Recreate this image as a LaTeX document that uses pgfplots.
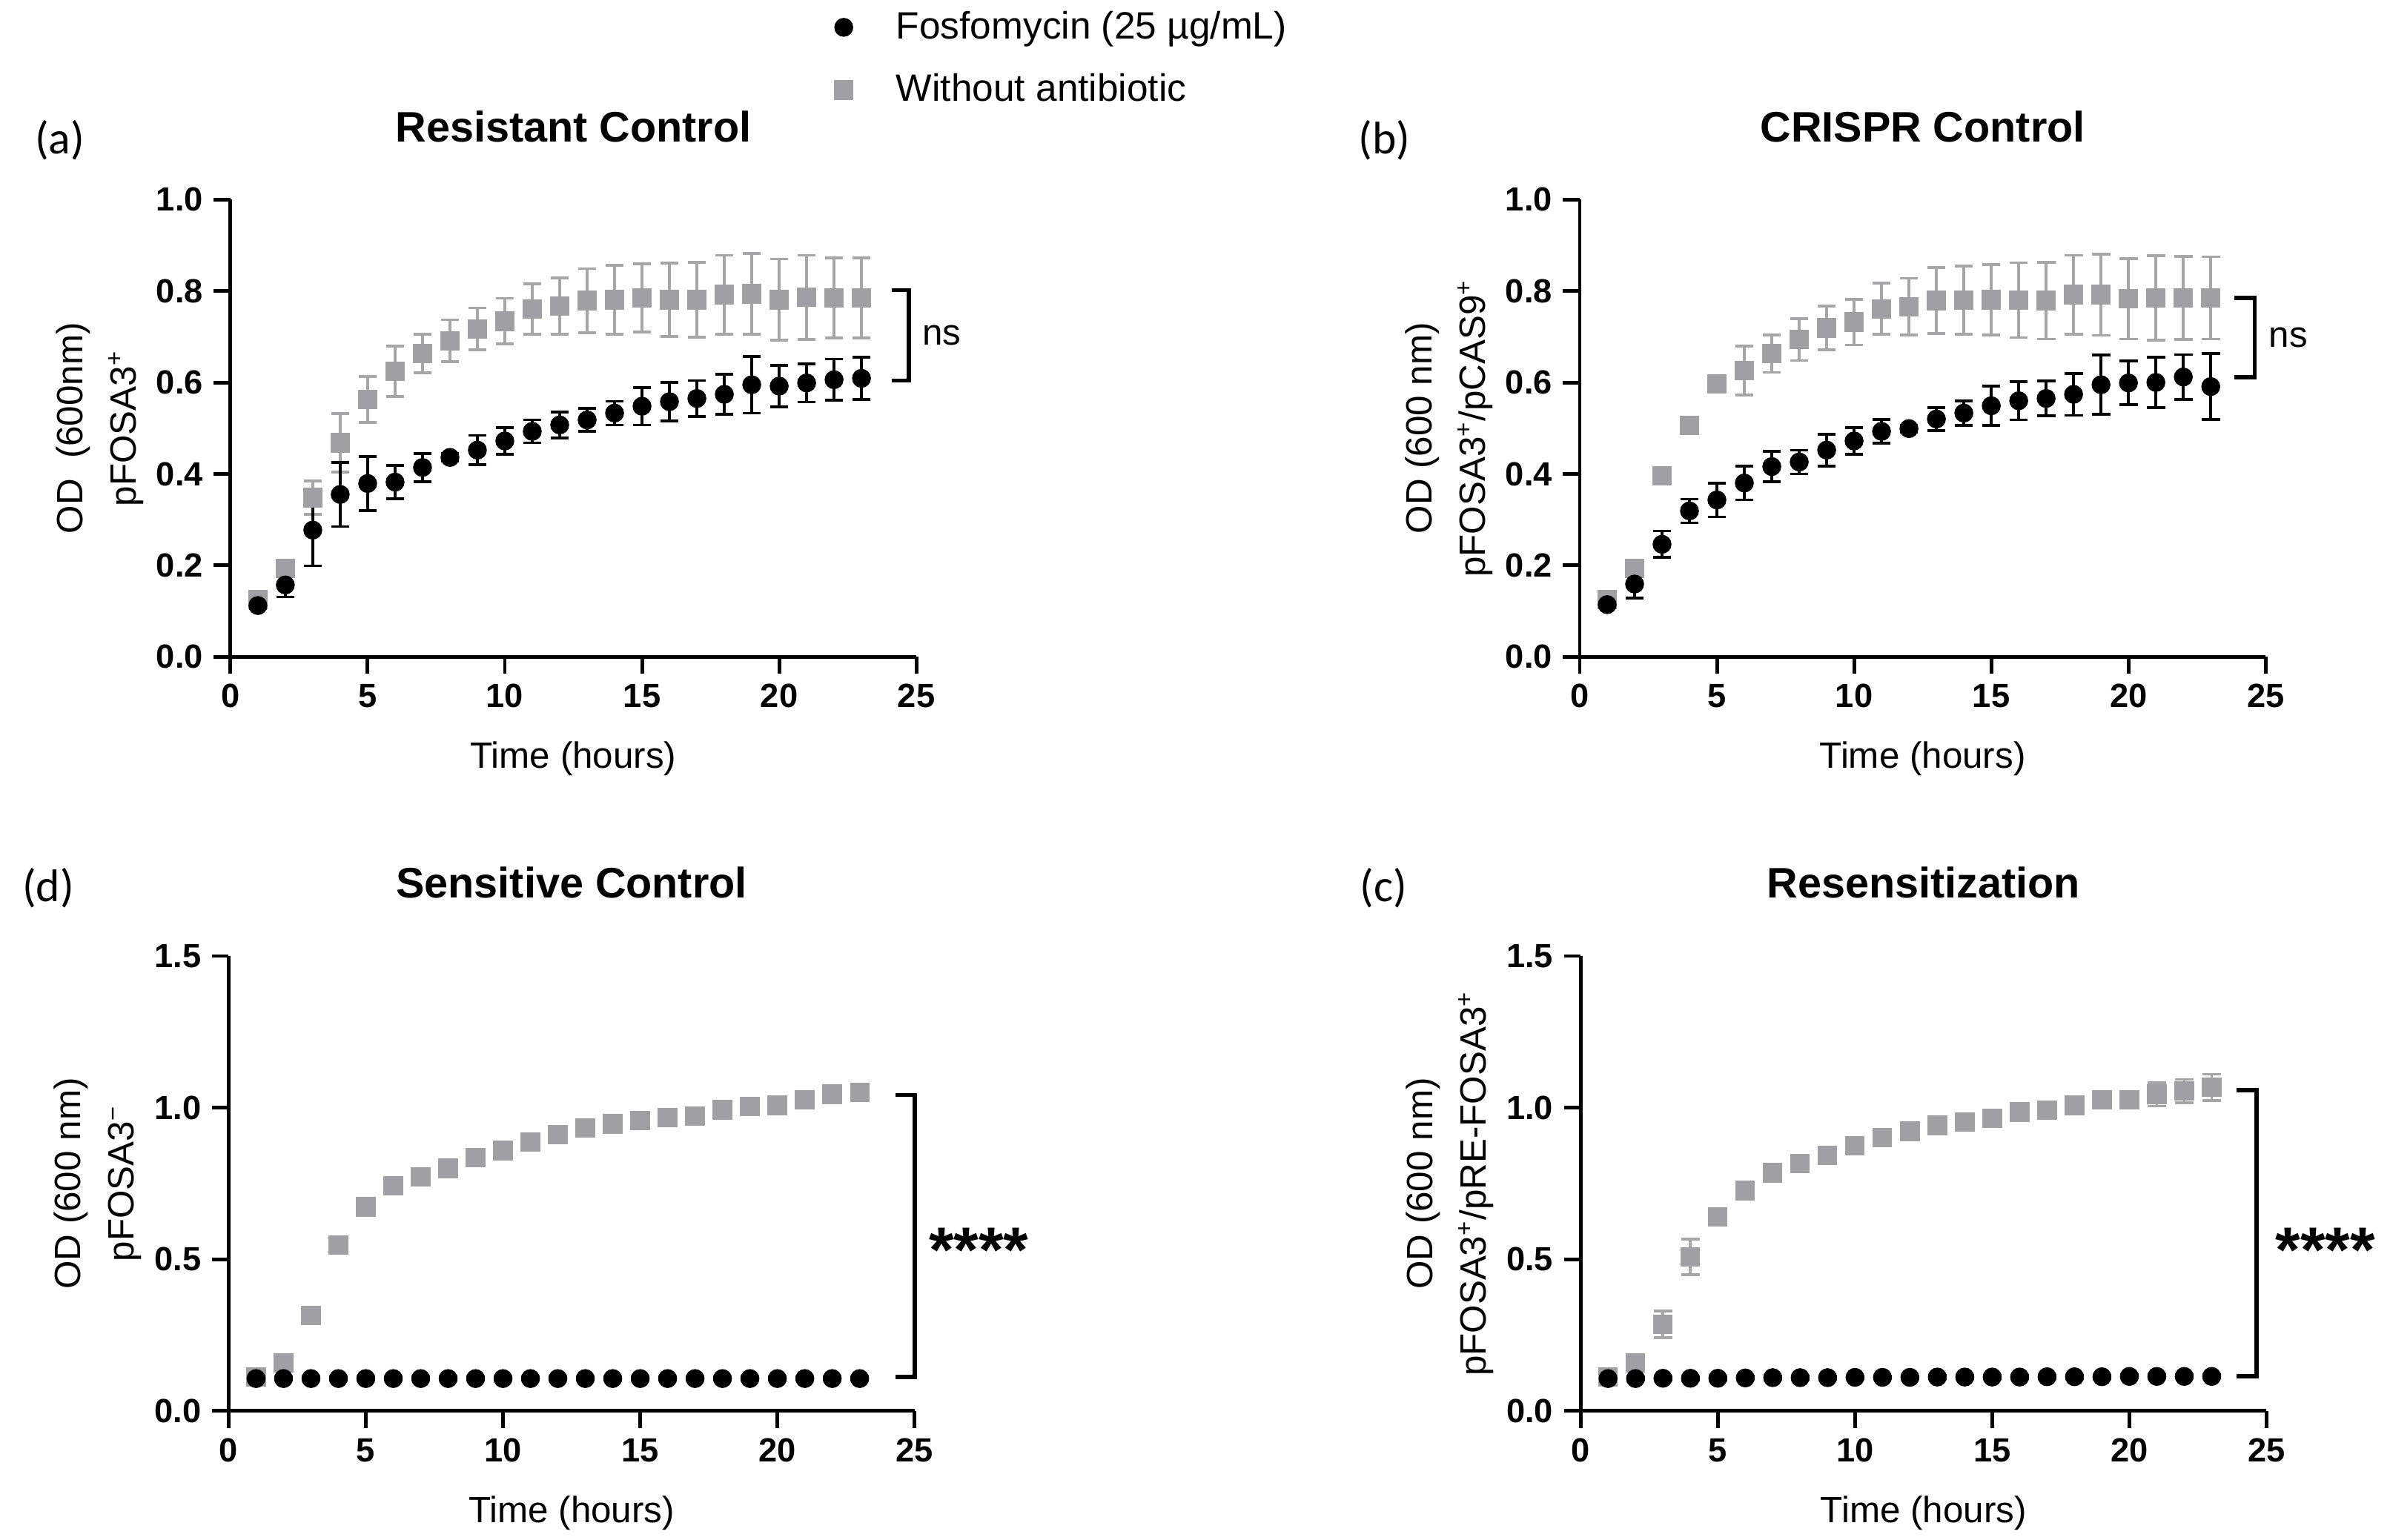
\documentclass[border=0pt]{standalone}
\usepackage{pgfplots}
\pgfplotsset{compat=1.18}
\usepackage{pgfplotstable}
\usepackage{fontspec}
\setmainfont{Liberation Sans}
\newfontfamily\calibri{Carlito}
\definecolor{sqgray}{RGB}{160,160,164}
\definecolor{ebgray}{RGB}{166,166,168}

% t = time (h); fy/fe = Fosfomycin mean/error; ny/ne = without antibiotic mean/error
\pgfplotstableread{
t fy fe ny ne
1 0.112 0.006 0.125 0.006
2 0.157 0.026 0.193 0.008
3 0.277 0.078 0.348 0.037
4 0.355 0.070 0.468 0.064
5 0.379 0.059 0.563 0.050
6 0.382 0.036 0.624 0.055
7 0.414 0.031 0.663 0.042
8 0.436 0.008 0.691 0.046
9 0.452 0.032 0.717 0.046
10 0.472 0.029 0.734 0.050
11 0.493 0.025 0.761 0.055
12 0.507 0.028 0.767 0.062
13 0.518 0.025 0.779 0.070
14 0.533 0.026 0.781 0.075
15 0.548 0.041 0.785 0.075
16 0.558 0.042 0.781 0.080
17 0.565 0.039 0.781 0.082
18 0.574 0.044 0.792 0.086
19 0.595 0.062 0.794 0.088
20 0.592 0.045 0.781 0.089
21 0.599 0.042 0.786 0.092
22 0.606 0.045 0.785 0.088
23 0.609 0.046 0.785 0.088
}\tabA
\pgfplotstableread{
t fy fe ny ne
1 0.114 0.006 0.125 0.006
2 0.159 0.031 0.193 0.008
3 0.246 0.029 0.396 0.006
4 0.319 0.026 0.506 0.006
5 0.343 0.037 0.597 0.006
6 0.380 0.037 0.626 0.054
7 0.416 0.033 0.663 0.041
8 0.426 0.026 0.694 0.046
9 0.452 0.035 0.719 0.048
10 0.472 0.029 0.732 0.050
11 0.493 0.026 0.761 0.056
12 0.499 0.008 0.766 0.062
13 0.520 0.025 0.779 0.072
14 0.533 0.027 0.780 0.075
15 0.549 0.043 0.781 0.077
16 0.560 0.042 0.780 0.082
17 0.565 0.038 0.779 0.084
18 0.574 0.046 0.792 0.086
19 0.595 0.065 0.792 0.089
20 0.599 0.048 0.783 0.088
21 0.600 0.055 0.785 0.092
22 0.612 0.049 0.785 0.091
23 0.591 0.072 0.785 0.090
}\tabB
\pgfplotstableread{
t fy fe ny ne
1 0.107 0.005 0.112 0.006
2 0.107 0.005 0.158 0.006
3 0.107 0.005 0.315 0.006
4 0.107 0.005 0.547 0.006
5 0.107 0.005 0.673 0.006
6 0.107 0.005 0.742 0.006
7 0.107 0.005 0.772 0.006
8 0.107 0.005 0.800 0.006
9 0.107 0.005 0.835 0.006
10 0.107 0.005 0.859 0.006
11 0.107 0.005 0.886 0.006
12 0.107 0.005 0.912 0.006
13 0.107 0.005 0.933 0.006
14 0.107 0.005 0.947 0.006
15 0.107 0.005 0.958 0.006
16 0.107 0.005 0.967 0.006
17 0.107 0.005 0.973 0.006
18 0.107 0.005 0.993 0.006
19 0.107 0.005 1.004 0.006
20 0.107 0.005 1.008 0.006
21 0.107 0.005 1.026 0.006
22 0.107 0.005 1.044 0.006
23 0.107 0.005 1.051 0.006
}\tabD
\pgfplotstableread{
t fy fe ny ne
1 0.107 0.005 0.112 0.006
2 0.107 0.005 0.158 0.006
3 0.108 0.005 0.285 0.044
4 0.108 0.005 0.508 0.059
5 0.108 0.005 0.640 0.006
6 0.109 0.005 0.727 0.006
7 0.110 0.005 0.785 0.006
8 0.110 0.005 0.816 0.006
9 0.110 0.005 0.843 0.006
10 0.111 0.005 0.874 0.006
11 0.111 0.005 0.902 0.006
12 0.111 0.005 0.922 0.006
13 0.112 0.005 0.942 0.006
14 0.112 0.005 0.952 0.006
15 0.112 0.005 0.965 0.006
16 0.112 0.005 0.986 0.006
17 0.113 0.005 0.991 0.006
18 0.113 0.005 1.008 0.006
19 0.113 0.005 1.026 0.006
20 0.114 0.005 1.026 0.006
21 0.114 0.005 1.044 0.039
22 0.114 0.005 1.055 0.038
23 0.114 0.005 1.067 0.043
}\tabC

\tikzset{
  seclab/.style={rotate=90, anchor=base, font=\fontsize{12}{14}\selectfont},
  panlab/.style={font=\calibri\fontsize{15}{18}\selectfont},
  brk/.style={line width=1.4pt, black},
}
\pgfplotsset{
  fosfo/.style={only marks, mark=*, mark size=2.95pt, color=black, mark options={fill=black, draw=black, line width=0.3pt}},
  noab/.style={only marks, mark=square*, mark size=3.05pt, color=sqgray, mark options={fill=sqgray, draw=sqgray, line width=0.3pt}},
  ebars/.style={error bars/.cd, y dir=both, y explicit,
     error bar style={line width=0.9pt, color=#1},
     error mark options={rotate=90, line width=0.9pt, mark size=3pt, color=#1}},
  panel/.style={
    scale only axis, width=225pt, anchor=south west,
    xmin=0, xmax=25, ymin=0,
    axis x line*=bottom, axis y line*=left,
    axis line style={line width=1.2pt, -},
    tick align=outside, major tick length=5.5pt,
    tick style={line width=1.2pt, black},
    xtick={0,5,10,15,20,25},
    /pgf/number format/assume math mode=true,
    ticklabel style={font=\bfseries\fontsize{11}{13}\selectfont},
    yticklabel style={/pgf/number format/.cd, fixed, fixed zerofill, precision=1},
    clip=false,
    title style={font=\bfseries\fontsize{14}{16}\selectfont, at={(axis description cs:0.5,1)}, anchor=base, yshift=13pt},
    xlabel={Time (hours)},
    xlabel style={font=\fontsize{12}{14}\selectfont, at={(axis description cs:0.5,0)}, anchor=base, yshift=-36.5pt},
    ylabel style={font=\fontsize{12}{14}\selectfont, at={(axis description cs:-0.2156,0.5)}, anchor=base},
    legend image code/.code={\draw[#1] plot coordinates {(0pt,0pt)}; \path (-4pt,0pt) (17pt,0pt);},
  },
}

\begin{document}
\begin{tikzpicture}
\useasboundingbox (0,0) rectangle (784pt,505.3pt);

% (a) Resistant Control
\begin{axis}[panel, at={(75.6pt,289.8pt)}, height=150pt, ymax=1,
  ytick={0,0.2,0.4,0.6,0.8,1.0},
  title={Resistant Control}, ylabel={OD\ \ (600nm)},
  legend style={at={(axis description cs:0.8746,1.42)}, anchor=north west, draw=none, fill=none,
    inner sep=0pt, row sep=8pt, font=\fontsize{12.5}{15}\selectfont, legend cell align=left,
    nodes={inner xsep=0pt, inner ysep=1pt}},
]
\addlegendimage{fosfo}\addlegendentry{Fosfomycin (25 µg/mL)}
\addlegendimage{noab}\addlegendentry{Without antibiotic}
\addplot[noab, forget plot, ebars=ebgray] table[x=t, y=ny, y error=ne] {\tabA};
\addplot[fosfo, forget plot, ebars=black] table[x=t, y=fy, y error=fe] {\tabA};
\draw[brk] (axis cs:24.1,0.802) -- (axis cs:24.73,0.802) -- (axis cs:24.73,0.604) -- (axis cs:24.1,0.604);
\node[anchor=west, font=\fontsize{12}{14}\selectfont, inner sep=0pt] at (axis cs:25.2,0.703) {ns};
\node[seclab] at (axis description cs:-0.1378,0.5) {pFOSA3\textsuperscript{+}};
\node[panlab] at (axis description cs:-0.249,1.13) {(a)};
\end{axis}

% (b) CRISPR Control
\begin{axis}[panel, at={(518.2pt,289.8pt)}, height=150pt, ymax=1,
  ytick={0,0.2,0.4,0.6,0.8,1.0},
  title={CRISPR Control}, ylabel={OD (600 nm)},
]
\addplot[noab, ebars=ebgray] table[x=t, y=ny, y error=ne] {\tabB};
\addplot[fosfo, ebars=black] table[x=t, y=fy, y error=fe] {\tabB};
\draw[brk] (axis cs:23.87,0.785) -- (axis cs:24.6,0.785) -- (axis cs:24.6,0.612) -- (axis cs:23.87,0.612);
\node[anchor=west, font=\fontsize{12}{14}\selectfont, inner sep=0pt] at (axis cs:25.1,0.698) {ns};
\node[seclab] at (axis description cs:-0.1378,0.5) {pFOSA3\textsuperscript{+}/pCAS9\textsuperscript{+}};
\node[panlab] at (axis description cs:-0.285,1.13) {(b)};
\end{axis}

% (d) Sensitive Control
\begin{axis}[panel, at={(75pt,42.3pt)}, height=149.3pt, ymax=1.5,
  ytick={0,0.5,1.0,1.5},
  title={Sensitive Control}, ylabel={OD (600 nm)},
]
\addplot[noab, ebars=ebgray] table[x=t, y=ny, y error=ne] {\tabD};
\addplot[fosfo, ebars=black] table[x=t, y=fy, y error=fe] {\tabD};
\draw[brk] (axis cs:24.3,1.042) -- (axis cs:25.0,1.042) -- (axis cs:25.0,0.112) -- (axis cs:24.3,0.112);
\node[anchor=west, font=\bfseries\fontsize{21}{24}\selectfont, inner sep=0pt] at (axis cs:25.5,0.53) {****};
\node[seclab] at (axis description cs:-0.1378,0.5) {pFOSA3\textsuperscript{−}};
\node[panlab] at (axis description cs:-0.263,1.149) {(d)};
\end{axis}

% (c) Resensitization
\begin{axis}[panel, at={(518.5pt,42.3pt)}, height=149.3pt, ymax=1.5,
  ytick={0,0.5,1.0,1.5},
  title={Resensitization}, ylabel={OD (600 nm)},
]
\addplot[noab, ebars=ebgray] table[x=t, y=ny, y error=ne] {\tabC};
\addplot[fosfo, ebars=black] table[x=t, y=fy, y error=fe] {\tabC};
\draw[brk] (axis cs:23.9,1.057) -- (axis cs:24.63,1.057) -- (axis cs:24.63,0.114) -- (axis cs:23.9,0.114);
\node[anchor=west, font=\bfseries\fontsize{21}{24}\selectfont, inner sep=0pt] at (axis cs:25.3,0.53) {****};
\node[seclab] at (axis description cs:-0.1378,0.5) {pFOSA3\textsuperscript{+}/pRE-FOSA3\textsuperscript{+}};
\node[panlab] at (axis description cs:-0.287,1.149) {(c)};
\end{axis}
\end{tikzpicture}
\end{document}
